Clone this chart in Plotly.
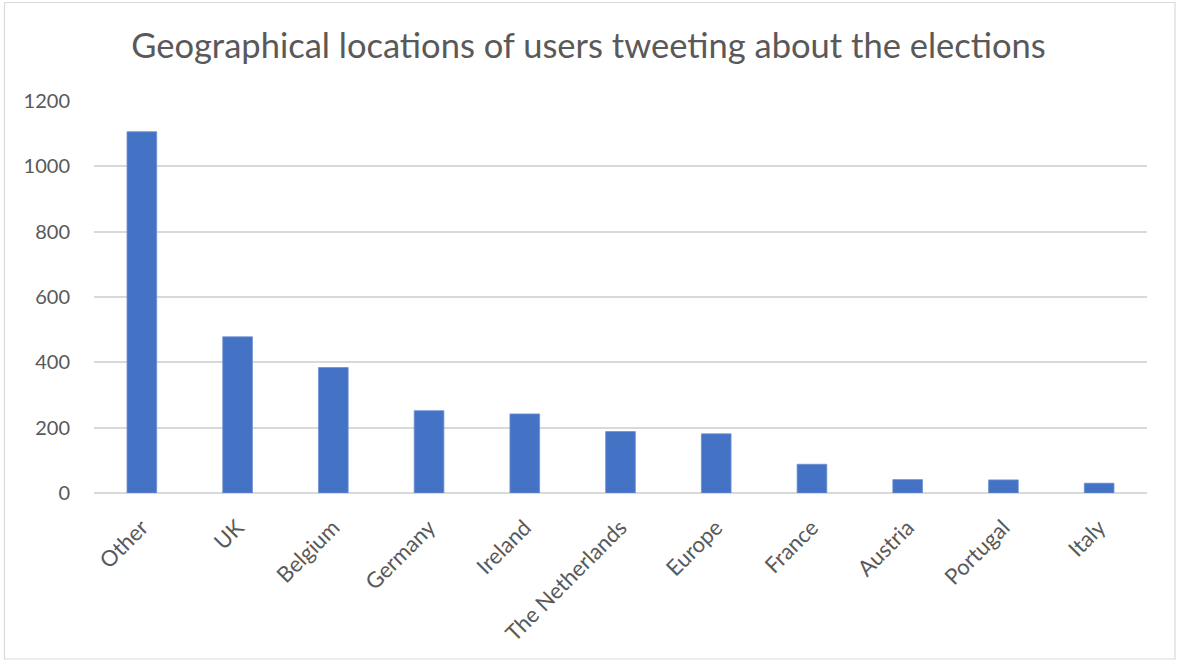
import plotly.graph_objects as go

categories = ["Other", "UK", "Belgium", "Germany", "Ireland", "The Netherlands",
              "Europe", "France", "Austria", "Portugal", "Italy"]
values = [1106, 478, 384, 252, 242, 188, 181, 88, 41, 40, 30]
y_ticks = [0, 200, 400, 600, 800, 1000, 1200]
title_text = "Geographical locations of users tweeting about the elections"

W, H = 1177, 661
ml, mr, mt, mb = 94, 30, 101, 168

fig = go.Figure(go.Bar(
    x=categories, y=values,
    marker=dict(color="#4472C4", line=dict(color="#6d8fd0", width=0.8)),
    width=0.31,
))

pw = W - ml - mr
ph = H - mt - mb
def px_x(p):
    return (p - ml) / pw
def px_y(p):
    return 1 - (p - mt) / ph

fig.update_layout(
    width=W, height=H,
    margin=dict(l=ml, r=mr, t=mt, b=mb),
    paper_bgcolor="white", plot_bgcolor="white",
    title=dict(text=title_text, x=0.5, xanchor="center", y=1 - 46 / H, yanchor="middle",
               font=dict(family="Lato", size=34.5, color="#595959")),
    font=dict(family="Lato", color="#595959"),
    showlegend=False,
    shapes=[dict(type="rect", xref="paper", yref="paper",
                 x0=px_x(4.5), x1=px_x(1175), y0=px_y(659), y1=px_y(2.5),
                 line=dict(color="#d9d9d9", width=1.2), fillcolor="rgba(0,0,0,0)", layer="below")],
)
fig.update_yaxes(range=[0, 1200], tickvals=y_ticks, showgrid=True, gridcolor="#d9d9d9",
                 gridwidth=1.5, zeroline=True, zerolinecolor="#d9d9d9", zerolinewidth=1.5,
                 showline=False, tickfont=dict(size=20, color="#595959"),
                 ticks="outside", ticklen=19, tickcolor="rgba(0,0,0,0)")
fig.update_xaxes(tickangle=-45, tickfont=dict(size=22, color="#595959"), showline=False,
                 ticks="outside", ticklen=12, tickcolor="rgba(0,0,0,0)", showgrid=False)

fig.write_html("out.html")
